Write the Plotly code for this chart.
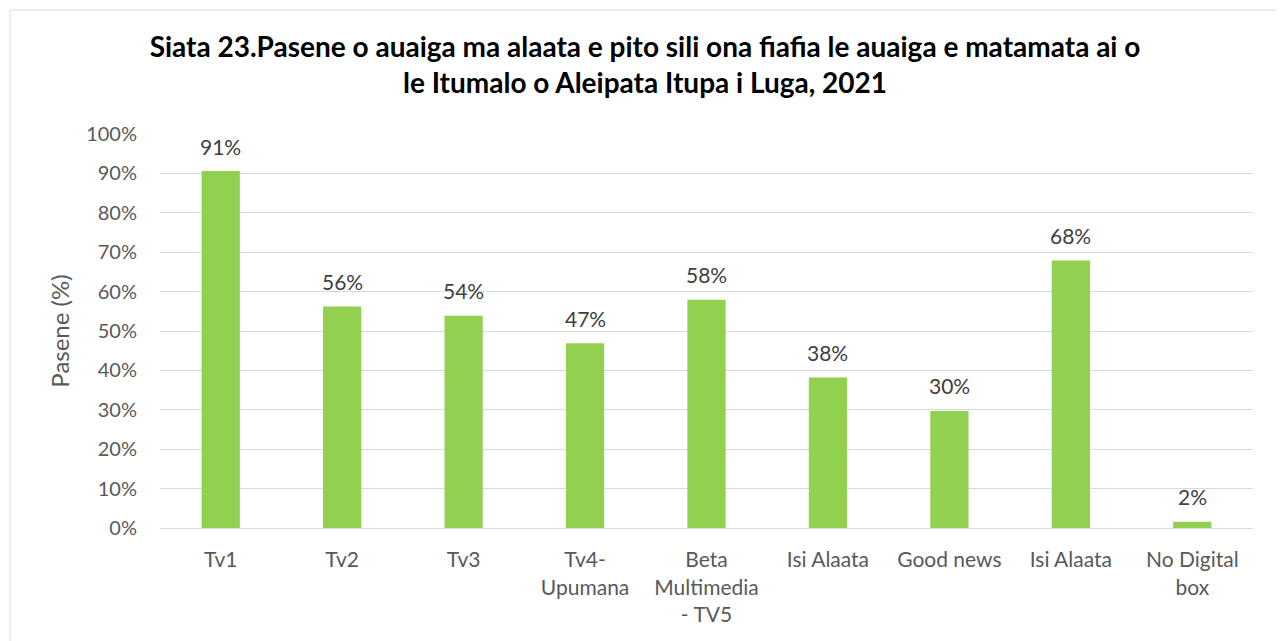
import plotly.graph_objects as go

categories = ["Tv1", "Tv2", "Tv3", "Tv4-<br>Upumana", "Beta<br>Multimedia<br>- TV5",
              "Isi Alaata", "Good news", "Isi Alaata", "No Digital<br>box"]
values = [90.6, 56.2, 53.9, 46.9, 57.9, 38.2, 29.7, 67.9, 1.6]
y_ticks = [0, 10, 20, 30, 40, 50, 60, 70, 80, 90, 100]
y_tick_labels = [f"{v}%" for v in y_ticks]

OFF = 8  # page offset of the figure
W, H = 1284 - OFF, 641 - OFF
L, R, T, B = 160 - OFF, 1284 - 1253, 134 - OFF, 641 - 528
pw, ph = W - L - R, H - T - B

FONT = "Lato, Open Sans, sans-serif"
xs = list(range(len(categories)))
fig = go.Figure(go.Bar(
    x=xs, y=values,
    marker=dict(color="#92D050", line=dict(width=0)),
    width=0.315,
    hoverinfo="skip",
))

for xv, v in zip(xs, values):
    fig.add_annotation(x=xv, y=v, text=f"{round(v)}%", showarrow=False,
                       yanchor="middle", yshift=25,
                       font=dict(size=21, color="#404040", family=FONT))

fig.update_layout(
    width=W, height=H,
    margin=dict(l=L, r=R, t=T, b=B),
    paper_bgcolor="white", plot_bgcolor="white",
    font=dict(family=FONT, color="#595959", size=20),
    title=dict(
        text="<b>Siata 23.Pasene o auaiga ma alaata e pito sili ona fiafia le auaiga e matamata ai o<br>le Itumalo o Aleipata Itupa i Luga, 2021</b>",
        x=(645 - OFF) / W, xanchor="center", y=1 - (57 - OFF) / H, yanchor="middle",
        font=dict(size=28, color="#000000", family=FONT),
    ),
    xaxis=dict(
        tickmode="array", tickvals=xs, ticktext=categories,
        range=[-0.5, len(categories) - 0.5],
        showgrid=False, showline=True, linecolor="#D9D9D9", linewidth=1,
        ticks="", tickfont=dict(size=21, color="#595959"),
        ticklabelstandoff=13,
    ),
    yaxis=dict(
        range=[0, 100], tickvals=y_ticks, ticktext=y_tick_labels,
        showgrid=True, gridcolor="#D9D9D9", gridwidth=1,
        zeroline=False, showline=False, ticks="",
        tickfont=dict(size=20, color="#595959"),
        ticklabelstandoff=22,
        title=dict(text="Pasene (%)", font=dict(size=24, color="#595959"), standoff=9),
    ),
    showlegend=False,
    shapes=[dict(
        type="rect", xref="paper", yref="paper",
        x0=(10 - OFF - L) / pw, x1=(1282 - OFF - L) / pw,
        y0=(H - B - (660 - OFF)) / ph, y1=(H - B - (10 - OFF)) / ph,
        line=dict(color="#D9D9D9", width=1), fillcolor="rgba(0,0,0,0)", layer="below",
    )],
)

fig.write_html("out.html")
